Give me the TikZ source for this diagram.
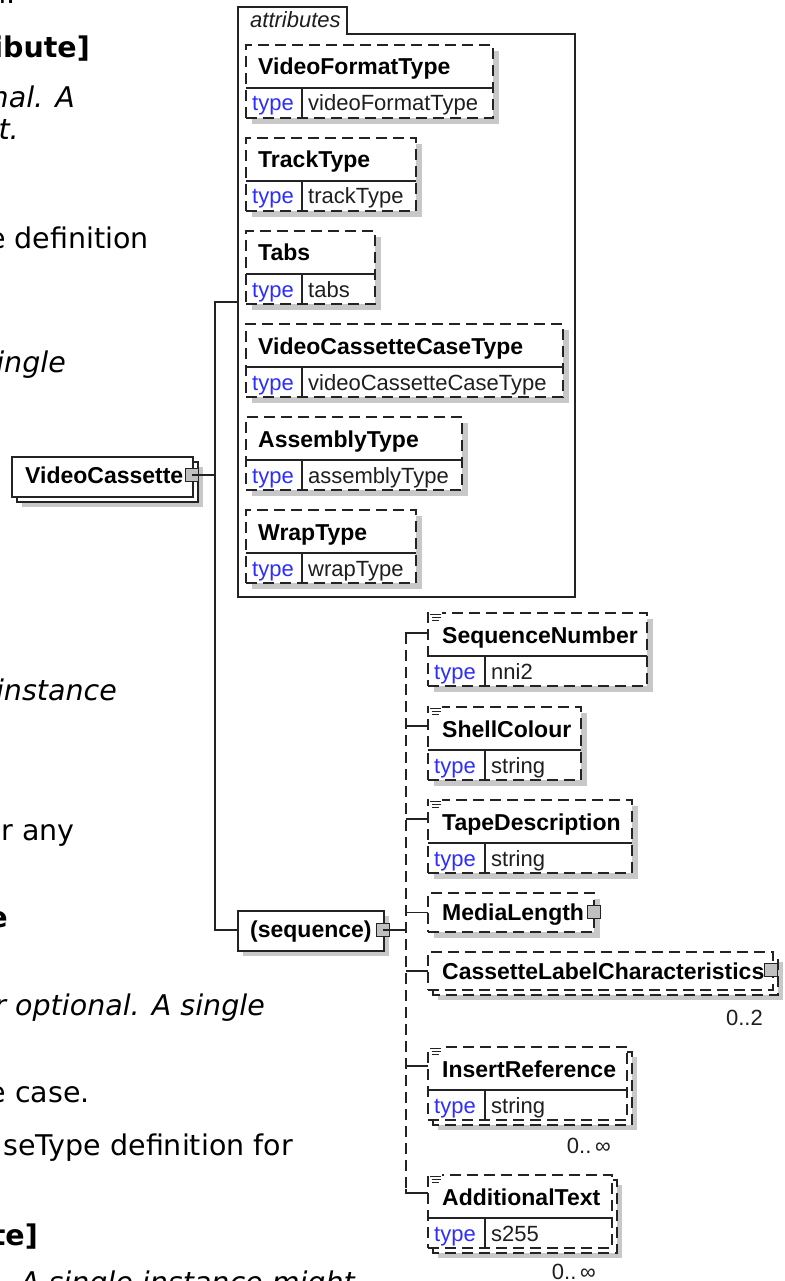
\documentclass[tikz,border=0pt]{standalone}
\usepackage{fontspec}
\setmainfont{Liberation Sans}
\newfontfamily\docfont{DejaVu Sans}
\definecolor{shadowc}{RGB}{200,200,200}
\definecolor{btnc}{RGB}{192,192,192}
\definecolor{linec}{RGB}{35,35,35}
\definecolor{typec}{RGB}{45,45,255}
\definecolor{valc}{RGB}{30,30,30}
\tikzset{
  frame/.style={draw=linec, line width=1.2pt, fill=white, inner sep=0pt, outer sep=0pt, anchor=north west},
  dashframe/.style={frame, dash pattern=on 11pt off 6pt},
  conn/.style={draw=linec, line width=1.2pt},
  dashconn/.style={conn, dash pattern=on 11pt off 6pt},
  lbl/.style={anchor=base west, inner sep=0pt, font=\fontsize{23}{27}\selectfont\bfseries, text=black},
  typelbl/.style={anchor=base west, inner sep=0pt, font=\fontsize{22}{26}\selectfont, text=typec},
  vallbl/.style={anchor=base west, inner sep=0pt, font=\fontsize{22}{26}\selectfont, text=valc},
  occ/.style={anchor=base east, inner sep=0pt, font=\fontsize{22}{26}\selectfont, text=valc},
  doctext/.style={anchor=base east, inner sep=0pt, font=\docfont\fontsize{28.5}{33}\selectfont, text=black},
  btn/.style={draw=linec, line width=1.1pt, fill=btnc, minimum size=13pt, inner sep=0pt, outer sep=0pt},
}
\newcommand\typedbox[8]{%
  \pgfmathsetmacro\tbw{#4-(#2)}%
  \node[dashframe, minimum width=\tbw pt, minimum height=73pt] (#1) at (#2,#3) {};
  \draw[conn] (#2,#3+43) -- (#4,#3+43);
  \draw[conn] (#7,#3+43) -- (#7,#3+73);
  \node[lbl] (#1-name) at (#2+#8,#3+30) {#5};
  \node[typelbl] (#1-tk) at (#2+6,#3+66) {type};
  \node[vallbl] (#1-tv) at (#7+6,#3+66) {#6};
}
\newcommand\sshadow[4]{\fill[shadowc] (#1+6,#2+6) rectangle (#3+6,#4+6);}
\newcommand\mshadow[4]{\fill[shadowc] (#1+10,#2+10) rectangle (#3+10,#4+10);
  \draw[line width=1.2pt, draw=linec, fill=white, dash pattern=on 11pt off 6pt] (#1+5,#2+5) rectangle (#3+5,#4+5);}
\newcommand\docicon[2]{%
  \fill[white] (#1+1,#2-2) rectangle (#1+14,#2+10);
  \draw[linec, line width=1pt] (#1+2,#2+1) -- (#1+13,#2+1) (#1+4,#2+4) -- (#1+13,#2+4) (#1+4,#2+7) -- (#1+11,#2+7);}
\begin{document}
\begin{tikzpicture}[x=1pt,y=-1pt]
\useasboundingbox (0,0) rectangle (784,1281);
\clip (0,0) rectangle (784,1281);
\fill[white] (0,0) rectangle (784,1281);

% ---- clipped document text on the left
\node[doctext] (d1) at (16,4) {n.};
\node[doctext] (d2) at (90,58) {\bfseries ibute]};
\node[doctext] (d3) at (75,108) {\itshape nal. A};
\node[doctext] (d4) at (19,140) {\itshape t.};
\node[doctext] (d5) at (149,248) {e definition};
\node[doctext] (d6) at (66,372) {\itshape ingle};
\node[doctext] (d7) at (117,700) {\itshape instance};
\node[doctext] (d8) at (75,840) {r any};
\node[doctext] (d9) at (8,927) {\bfseries e};
\node[doctext] (d10) at (265,1015) {\itshape r optional. A single};
\node[doctext] (d11) at (90,1102) {e case.};
\node[doctext] (d12) at (293,1155) {seType definition for};
\node[doctext] (d13) at (38,1245) {\bfseries te]};
\node[doctext] (d14) at (355,1292) {\itshape A single instance might};

% ---- root element
\fill[shadowc] (22,467) rectangle (203,507);
\node[frame, minimum width=181pt, minimum height=40pt] (vcback) at (17,462) {};
\node[frame, minimum width=181pt, minimum height=40pt] (vc) at (12,457) {};
\node[lbl] (vc-name) at (25,483) {VideoCassette};

% ---- attributes frame
\node[inner sep=0pt, outer sep=0pt, minimum width=337pt, minimum height=563pt, anchor=north west] (attrs) at (238,34) {};
\draw[conn] (238,597) -- (238,7) -- (347,7) -- (347,34) -- (575,34) -- (575,597) -- cycle;
\node[anchor=base west, inner sep=0pt, font=\fontsize{22}{26}\selectfont\itshape, text=valc] (attrs-title) at (250,28) {attributes};

\sshadow{246}{45}{493}{118}
\typedbox{vft}{246}{45}{493}{VideoFormatType}{videoFormatType}{302}{12}
\sshadow{246}{138}{416}{211}
\typedbox{tt}{246}{138}{416}{TrackType}{trackType}{302}{12}
\sshadow{246}{231}{375}{304}
\typedbox{tabs}{246}{231}{375}{Tabs}{tabs}{302}{12}
\sshadow{246}{324}{563}{397}
\typedbox{vcct}{246}{324}{563}{VideoCassetteCaseType}{videoCassetteCaseType}{302}{12}
\sshadow{246}{417}{462}{490}
\typedbox{asm}{246}{417}{462}{AssemblyType}{assemblyType}{302}{12}
\sshadow{246}{510}{416}{583}
\typedbox{wrap}{246}{510}{416}{WrapType}{wrapType}{302}{12}

% ---- sequence compositor
\fill[shadowc] (243,916) rectangle (389,956);
\node[frame, minimum width=146pt, minimum height=40pt] (seq) at (238,911) {};
\node[lbl] (seq-name) at (250,937) {(sequence)};

% ---- sequence children
\sshadow{428}{613}{647}{686}
\typedbox{sn}{428}{613}{647}{SequenceNumber}{nni2}{485}{14}
\docicon{428}{613}
\sshadow{428}{707}{581}{780}
\typedbox{sc}{428}{707}{581}{ShellColour}{string}{485}{14}
\docicon{428}{707}
\sshadow{428}{800}{632}{873}
\typedbox{td}{428}{800}{632}{TapeDescription}{string}{485}{14}
\docicon{428}{800}

\sshadow{428}{893}{594}{932}
\node[dashframe, minimum width=166pt, minimum height=39pt] (ml) at (428,893) {};
\node[lbl] (ml-name) at (442,920) {MediaLength};

\mshadow{428}{952}{773}{990}
\node[dashframe, minimum width=345pt, minimum height=38pt] (clc) at (428,952) {};
\node[lbl] (clc-name) at (442,979) {CassetteLabelCharacteristics};
\node[occ] (clc-occ) at (763,1025) {0..2};

\mshadow{428}{1047}{627}{1120}
\typedbox{ir}{428}{1047}{627}{InsertReference}{string}{485}{14}
\docicon{428}{1047}
\node[occ] (ir-occ) at (611,1153) {0..\,∞};

\mshadow{428}{1175}{612}{1248}
\typedbox{at}{428}{1175}{612}{AdditionalText}{s255}{485}{14}
\docicon{428}{1175}
\node[occ] (at-occ) at (596,1279) {0..\,∞};

% ---- buttons
\node[btn] (vcbtn) at (192,475) {};
\node[btn] (seqbtn) at (383,930) {};
\node[btn] (mlbtn) at (594,912) {};
\node[btn] (clcbtn) at (771,970) {};

% ---- connectors
\coordinate (busA) at (215,302);
\coordinate (busB) at (215,930);
\draw[conn] (vcbtn.center) -- (vcbtn.center -| busA);
\draw[conn] (attrs.west |- busA) -- (busA) -- (busB) -- (seq.west |- busB);
\coordinate (busC) at (406,633);
\coordinate (busD) at (406,1193);
\draw[conn] (seqbtn.center) -- (seqbtn.center -| busC);
\draw[dashconn] (busC) -- (busD);
\draw[conn] (sn.west |- busC) -- (busC) -- ++(0,4);
\draw[conn] (sc.west |- 0,726) -- (busC |- 0,726);
\draw[conn] (td.west |- 0,819) -- (busC |- 0,819);
\draw[conn] (ml.west) -- (busC |- ml.west);
\draw[conn] (clc.west) -- (busC |- clc.west);
\draw[conn] (ir.west |- 0,1066) -- (busC |- 0,1066);
\draw[conn] (at.west |- busD) -- (busD) -- ++(0,-4);
\end{tikzpicture}
\end{document}
